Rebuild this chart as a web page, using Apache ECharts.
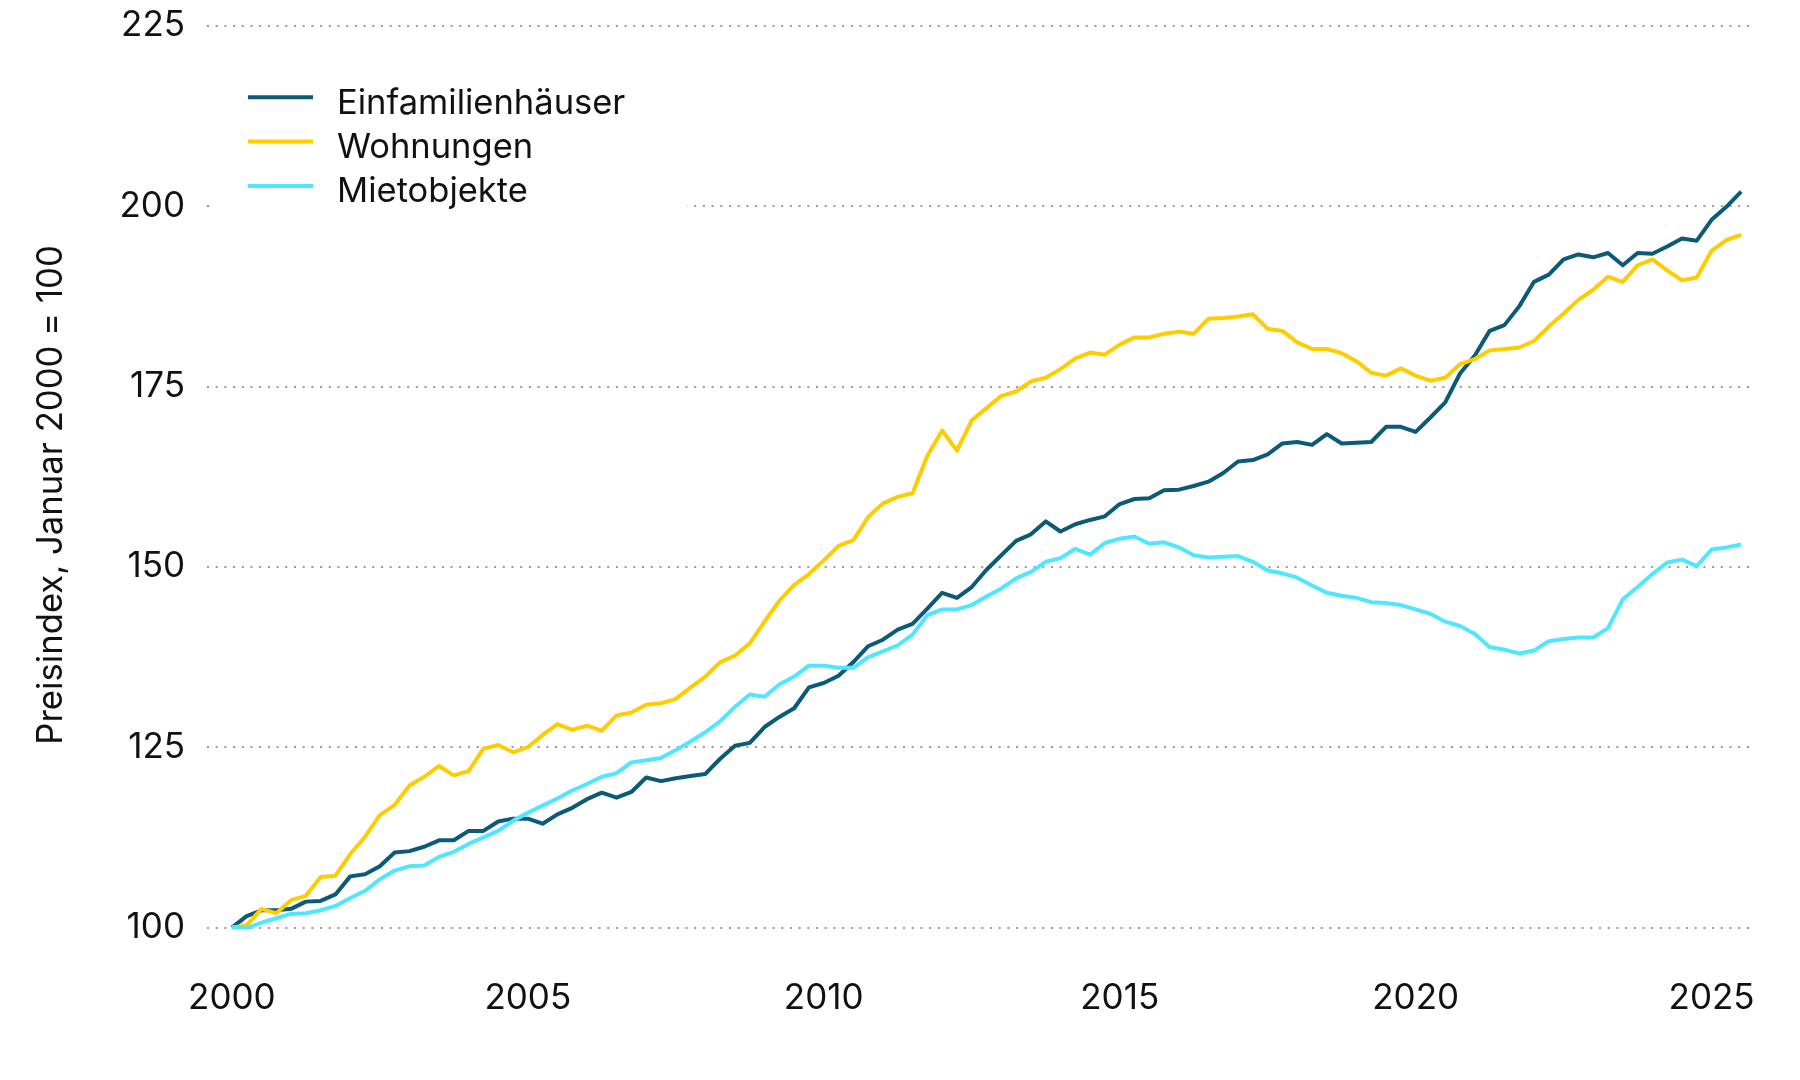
<!DOCTYPE html>
<html>
<head>
<meta charset="utf-8">
<script src="https://cdn.jsdelivr.net/npm/echarts@6/dist/echarts.min.js"></script>
<style>
html,body{margin:0;padding:0;background:#fff;}
#chart{width:1800px;height:1080px;}
</style>
</head>
<body>
<div id="chart"></div>
<script>
// Quarterly index values, 2000 Q1 ... 2025 Q3 (January 2000 = 100)
const seriesNames = ['Einfamilienhäuser', 'Wohnungen', 'Mietobjekte'];
const seriesColors = ['#0b5b78', '#ffcc00', '#4fe6ff'];

const einfamilienhaeuser = [
  100.0,101.6,102.4,102.4,102.6,103.6,103.7,104.6,107.1,107.4,
  108.5,110.4,110.6,111.2,112.1,112.1,113.4,113.4,114.7,115.1,
  115.1,114.4,115.7,116.6,117.8,118.7,118.0,118.8,120.8,120.3,
  120.7,121.0,121.3,123.4,125.2,125.6,127.8,129.2,130.4,133.3,
  133.9,134.9,136.8,139.0,139.9,141.3,142.1,144.2,146.4,145.7,
  147.2,149.6,151.6,153.6,154.5,156.3,154.9,155.9,156.5,157.0,
  158.7,159.4,159.5,160.6,160.7,161.2,161.8,163.0,164.6,164.8,
  165.6,167.1,167.3,166.9,168.4,167.1,167.2,167.3,169.4,169.4,
  168.7,170.7,172.8,176.8,179.3,182.7,183.5,186.1,189.5,190.5,
  192.6,193.3,192.9,193.5,191.8,193.5,193.4,194.4,195.5,195.2,
  198.1,199.9,202.0
];
const wohnungen = [
  100.0,100.3,102.6,102.0,103.8,104.4,107.0,107.2,110.2,112.6,
  115.6,117.0,119.7,120.9,122.4,121.1,121.7,124.8,125.3,124.3,
  125.0,126.7,128.2,127.4,128.0,127.3,129.4,129.8,130.9,131.1,
  131.7,133.3,134.8,136.8,137.7,139.4,142.4,145.3,147.5,149.0,
  150.9,152.9,153.7,156.9,158.8,159.7,160.2,165.4,168.9,166.1,
  170.3,172.0,173.7,174.3,175.7,176.2,177.4,178.9,179.7,179.4,
  180.8,181.8,181.8,182.3,182.6,182.3,184.4,184.5,184.7,185.0,
  183.0,182.7,181.1,180.2,180.2,179.6,178.5,176.9,176.5,177.5,
  176.5,175.8,176.2,178.1,178.8,180.0,180.2,180.4,181.3,183.3,
  185.1,187.0,188.4,190.2,189.5,191.8,192.6,191.1,189.7,190.1,
  193.8,195.3,196.0
];
const mietobjekte = [
  100.0,99.9,100.7,101.3,101.9,102.0,102.4,103.0,104.1,105.1,
  106.7,107.9,108.5,108.6,109.8,110.5,111.6,112.5,113.4,114.8,
  115.9,116.9,117.9,119.0,119.9,120.9,121.4,122.9,123.2,123.5,
  124.6,125.8,127.1,128.6,130.6,132.3,132.0,133.7,134.8,136.3,
  136.3,136.0,136.0,137.5,138.3,139.1,140.6,143.3,144.1,144.1,
  144.7,145.9,147.0,148.4,149.3,150.7,151.2,152.5,151.7,153.3,
  153.9,154.2,153.2,153.4,152.7,151.6,151.3,151.4,151.5,150.7,
  149.5,149.1,148.5,147.4,146.4,146.0,145.7,145.1,145.0,144.7,
  144.1,143.5,142.4,141.8,140.7,138.9,138.5,138.0,138.4,139.7,
  140.0,140.2,140.2,141.5,145.5,147.2,149.0,150.6,151.0,150.1,
  152.4,152.7,153.1
];

// Periods: quarters from 2000 Q1 as decimal years
const periods = einfamilienhaeuser.map((_, i) => 2000 + i / 4);
const xTickLabels = [2000, 2005, 2010, 2015, 2020, 2025];
const yTickLabels = [100, 125, 150, 175, 200, 225];
const yTitle = 'Preisindex, Januar 2000 = 100';

const allValues = [einfamilienhaeuser, wohnungen, mietobjekte];
const FONT = 'Inter';

const chart = echarts.init(document.getElementById('chart'));
chart.setOption({
  animation: false,
  backgroundColor: '#ffffff',
  textStyle: { fontFamily: FONT, color: '#111' },
  grid: { left: 207, right: 47, top: 25.7, bottom: 152.4, containLabel: false },
  xAxis: {
    type: 'value',
    min: 1999.58,
    max: 2025.7,
    axisLine: { show: false },
    axisTick: { show: false },
    splitLine: { show: false },
    axisLabel: {
      customValues: xTickLabels,
      formatter: v => String(v),
      margin: 53,
      fontSize: 35,
      fontFamily: FONT,
      color: '#111'
    }
  },
  yAxis: {
    type: 'value',
    min: yTickLabels[0],
    max: yTickLabels[yTickLabels.length - 1],
    interval: 25,
    axisLine: { show: false },
    axisTick: { show: false },
    axisLabel: { margin: 22, fontSize: 35, fontFamily: FONT, color: '#111' },
    splitLine: {
      show: true,
      lineStyle: { color: '#9a9a9a', width: 2, type: [2, 6.7] }
    }
  },
  legend: {
    orient: 'vertical',
    left: 213,
    top: 63,
    padding: [20.3, 62, 8, 35],
    backgroundColor: '#ffffff',
    // thin bar at the top of a 16px-high box so the label sits slightly below the bar
    icon: 'path://M0,0h65v4h-65zM0,16h65v0.001h-65z',
    itemWidth: 65,
    itemHeight: 16,
    itemGap: 4.3,
    itemStyle: { borderWidth: 0 },
    textStyle: { fontSize: 34.5, fontFamily: FONT, color: '#111', lineHeight: 40, padding: [0, 0, 0, 19] },
    data: seriesNames
  },
  graphic: [{
    type: 'text',
    x: 52,
    y: 495,
    rotation: Math.PI / 2,
    style: {
      text: yTitle,
      fontSize: 34.7,
      fontFamily: FONT,
      fill: '#111',
      textAlign: 'center',
      textVerticalAlign: 'middle'
    }
  }],
  series: seriesNames.map((name, k) => ({
    name: name,
    type: 'line',
    symbol: 'none',
    smooth: false,
    color: seriesColors[k],
    lineStyle: { width: 4, color: seriesColors[k], join: 'round' },
    data: periods.map((p, i) => [p, allValues[k][i]])
  }))
});
</script>
</body>
</html>
